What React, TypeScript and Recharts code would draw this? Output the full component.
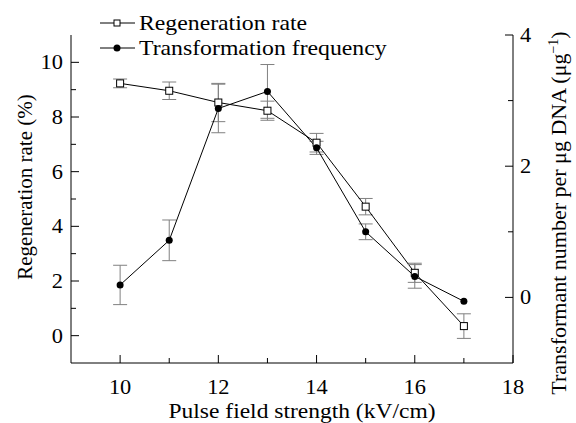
import React from 'react'
import {
  ComposedChart,
  Line,
  XAxis,
  YAxis,
  ErrorBar,
} from 'recharts'

const fieldStrength = [10, 11, 12, 13, 14, 15, 16, 17]
const regenerationRate = [9.23, 8.96, 8.53, 8.23, 7.06, 4.72, 2.3, 0.35]
const regenerationErr = [0.16, 0.32, 0.7, 0.35, 0.34, 0.3, 0.35, 0.45]
const transformation = [0.19, 0.87, 2.88, 3.14, 2.28, 1.0, 0.32, -0.06]
const transformationErr = [0.3, 0.31, 0.37, 0.41, 0.1, 0.12, 0.18, 0]

const xTicks = [10, 11, 12, 13, 14, 15, 16, 17, 18]
const leftTicks = [0, 1, 2, 3, 4, 5, 6, 7, 8, 9, 10]
const rightTicks = [0, 1, 2, 3, 4]

const data = fieldStrength.map((x, i) => ({
  x,
  regen: regenerationRate[i],
  regenErr: regenerationErr[i],
  trans: transformation[i],
  transErr: transformationErr[i],
}))

const FONT = '"Liberation Serif", "Times New Roman", serif'
const STRETCH = 1.12

const LeftTick = ({ x, y, payload }: any) => {
  const major = payload.value % 2 === 0
  return (
    <g>
      <line x1={x} x2={x + (major ? 8 : 5)} y1={y} y2={y} stroke="#000" />
      {major && (
        <text
          transform={`translate(${x - 8} ${y + 7}) scale(${STRETCH} 1)`}
          textAnchor="end"
          fontFamily={FONT}
          fontSize={20}
          fill="#000"
        >
          {payload.value}
        </text>
      )}
    </g>
  )
}

const RightTick = ({ x, y, payload }: any) => {
  const major = payload.value % 2 === 0
  return (
    <g>
      <line x1={x} x2={x - (major ? 8 : 5)} y1={y} y2={y} stroke="#000" />
      {major && (
        <text
          transform={`translate(${x + 7} ${y + 7}) scale(${STRETCH} 1)`}
          textAnchor="start"
          fontFamily={FONT}
          fontSize={20}
          fill="#000"
        >
          {payload.value}
        </text>
      )}
    </g>
  )
}

const BottomTick = ({ x, y, payload }: any) => {
  const major = payload.value % 2 === 0
  return (
    <g>
      <line x1={x} x2={x} y1={y} y2={y - (major ? 8 : 5)} stroke="#000" />
      {major && (
        <text
          transform={`translate(${x} ${y + 31}) scale(${STRETCH} 1)`}
          textAnchor="middle"
          fontFamily={FONT}
          fontSize={20}
          fill="#000"
        >
          {payload.value}
        </text>
      )}
    </g>
  )
}

const XTitle = ({ viewBox }: any) => {
  const cx = viewBox.x + viewBox.width / 2 + 10
  const cy = viewBox.y + 54.5
  return (
    <text
      transform={`translate(${cx} ${cy}) scale(1.12 1)`}
      textAnchor="middle"
      fontFamily={FONT}
      fontSize={21}
      fill="#000"
    >
      Pulse field strength (kV/cm)
    </text>
  )
}

const LeftTitle = ({ viewBox }: any) => {
  const cx = viewBox.x + 32
  const cy = viewBox.y + viewBox.height / 2 - 12
  return (
    <text
      transform={`translate(${cx} ${cy}) rotate(-90)`}
      textAnchor="middle"
      fontFamily={FONT}
      fontSize={21}
      fill="#000"
    >
      Regeneration rate (%)
    </text>
  )
}

const RightTitle = ({ viewBox }: any) => {
  const cx = viewBox.x + 53
  const cy = viewBox.y + viewBox.height / 2 + 14
  return (
    <text
      transform={`translate(${cx} ${cy}) rotate(-90)`}
      textAnchor="middle"
      fontFamily={FONT}
      fontSize={22}
      fill="#000"
    >
      Transformant number per μg DNA (μg
      <tspan fontSize={14} dy={-8}>−1</tspan>
      <tspan dy={8}>)</tspan>
    </text>
  )
}

const SquareDot = (props: any) => {
  const { cx, cy, index } = props
  if (cx == null || cy == null) return <g key={index} />
  return (
    <rect
      key={index}
      x={cx - 3.5}
      y={cy - 3.5}
      width={7}
      height={7}
      fill="#fff"
      stroke="#000"
      strokeWidth={1}
    />
  )
}

const Legend = () => (
  <svg
    width={576}
    height={64}
    style={{ position: 'absolute', left: 0, top: 0, pointerEvents: 'none' }}
  >
    <line x1={100} x2={135} y1={23} y2={23} stroke="#000" />
    <rect x={114} y={20} width={6} height={6} fill="#fff" stroke="#000" />
    <text
      transform="translate(139 30) scale(1.08 1)"
      fontFamily={FONT}
      fontSize={22}
      fill="#000"
    >
      Regeneration rate
    </text>
    <line x1={100} x2={135} y1={48} y2={48} stroke="#000" />
    <circle cx={117} cy={48} r={3.5} fill="#000" />
    <text
      transform="translate(139 55) scale(1.08 1)"
      fontFamily={FONT}
      fontSize={22}
      fill="#000"
    >
      Transformation frequency
    </text>
  </svg>
)

export default function App() {
  return (
    <div style={{ position: 'fixed', left: 0, top: 0, width: 576, height: 423, background: '#fff' }}>
      <ComposedChart
        width={576}
        height={423}
        data={data}
        margin={{ top: 35, right: 0, bottom: 0, left: 0 }}
      >
        <XAxis
          dataKey="x"
          type="number"
          domain={[9, 18]}
          ticks={xTicks}
          height={60}
          axisLine={{ stroke: '#000' }}
          tickLine={false}
          tickSize={0}
          tickMargin={0}
          tick={<BottomTick />}
          interval={0}
          label={<XTitle />}
        />
        <YAxis
          yAxisId="left"
          type="number"
          domain={[-1, 11]}
          ticks={leftTicks}
          width={71}
          axisLine={{ stroke: '#000' }}
          tickLine={false}
          tickSize={0}
          tickMargin={0}
          tick={<LeftTick />}
          interval={0}
          label={<LeftTitle />}
        />
        <YAxis
          yAxisId="right"
          orientation="right"
          type="number"
          domain={[-1, 4]}
          ticks={rightTicks}
          width={63}
          axisLine={{ stroke: '#000' }}
          tickLine={false}
          tickSize={0}
          tickMargin={0}
          tick={<RightTick />}
          interval={0}
          label={<RightTitle />}
        />
        <Line
          yAxisId="left"
          dataKey="regen"
          type="linear"
          stroke="#000"
          strokeWidth={1}
          dot={<SquareDot />}
          activeDot={false}
          isAnimationActive={false}
        >
          <ErrorBar dataKey="regenErr" width={7} stroke="#808080" strokeWidth={1} direction="y" />
        </Line>
        <Line
          yAxisId="right"
          dataKey="trans"
          type="linear"
          stroke="#000"
          strokeWidth={1}
          dot={{ r: 3.5, fill: '#000', stroke: '#000', strokeWidth: 0 }}
          activeDot={false}
          isAnimationActive={false}
        >
          <ErrorBar dataKey="transErr" width={7} stroke="#808080" strokeWidth={1} direction="y" />
        </Line>
      </ComposedChart>
      <Legend />
    </div>
  )
}
